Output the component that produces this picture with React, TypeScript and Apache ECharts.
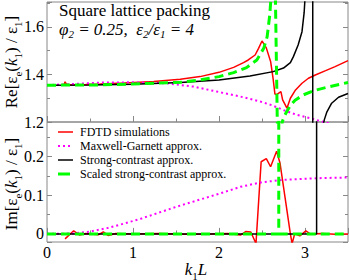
import React, { useEffect, useRef } from 'react';
import * as echarts from 'echarts';

// ---- data (k1*L, value) ----
const fdtdRe = [
  [0.20, 1.358], [0.21, 1.369], [0.23, 1.356], [0.30, 1.357], [0.45, 1.358], [0.62, 1.360],
  [0.90, 1.364], [1.24, 1.370], [1.55, 1.380], [1.78, 1.391], [2.00, 1.409], [2.17, 1.430],
  [2.285, 1.450], [2.34, 1.461], [2.42, 1.482], [2.46, 1.510], [2.50, 1.541], [2.55, 1.512],
  [2.60, 1.455], [2.63, 1.380], [2.65, 1.318], [2.67, 1.315], [2.72, 1.328], [2.74, 1.293],
  [2.79, 1.258], [2.83, 1.300], [2.89, 1.335], [2.965, 1.363], [3.04, 1.384], [3.12, 1.398],
  [3.24, 1.416], [3.35, 1.433], [3.50, 1.458],
];
const fdtdIm = [
  [0.21, -0.013], [0.31, 0.008], [0.38, -0.003], [0.45, 0.001], [0.60, -0.002], [0.655, 0.005],
  [0.71, -0.004], [0.80, 0.001], [1.00, 0.000], [1.30, 0.001], [1.60, -0.001], [1.90, 0.000],
  [2.10, 0.001], [2.25, -0.003], [2.31, 0.006], [2.37, 0.005], [2.43, -0.025], [2.49, 0.187],
  [2.55, 0.195], [2.60, 0.174], [2.67, 0.214], [2.71, 0.183], [2.83, 0.000], [2.85, -0.025],
  [2.88, 0.000], [2.94, -0.005], [3.01, 0.008], [3.06, 0.000], [3.20, 0.001], [3.35, -0.001],
  [3.50, 0.000],
];
const mgRe = [
  [0, 1.355], [0.3, 1.360], [0.62, 1.366], [1.0, 1.367], [1.39, 1.363], [1.70, 1.349],
  [1.975, 1.328], [2.25, 1.307], [2.48, 1.286], [2.62, 1.270], [2.75, 1.250], [2.905, 1.230],
  [3.06, 1.216], [3.18, 1.204], [3.30, 1.192], [3.50, 1.175],
];
const mgIm = [
  [0, 0], [0.3, 0.001], [0.5, 0.006], [0.7, 0.015], [0.9, 0.027], [1.1, 0.040], [1.3, 0.055],
  [1.5, 0.070], [1.75, 0.087], [2.0, 0.104], [2.25, 0.122], [2.5, 0.134], [2.75, 0.140],
  [3.0, 0.143], [3.25, 0.145], [3.5, 0.146],
];
const scRe = [
  [0, 1.355], [0.5, 1.356], [1.0, 1.359], [1.55, 1.366], [2.0, 1.377], [2.36, 1.394],
  [2.63, 1.412], [2.75, 1.427], [2.83, 1.450], [2.865, 1.475], [2.92, 1.524], [2.965, 1.580],
  [2.99, 1.660], [3.0, 1.720], [3.02, 2.2], [3.09, 2.2], [3.09, 0.6], [3.15, 0.95],
  [3.19, 1.13], [3.21, 1.185], [3.225, 1.21], [3.255, 1.243], [3.31, 1.279], [3.39, 1.304],
  [3.5, 1.32],
];
const scIm = [[0, 0], [3.135, 0], [3.135, 1], [3.5, 1]];
const sscRe = [
  [0, 1.355], [0.62, 1.356], [1.0, 1.360], [1.55, 1.367], [1.78, 1.377], [2.0, 1.391],
  [2.17, 1.408], [2.32, 1.429], [2.44, 1.461], [2.52, 1.51], [2.56, 1.559], [2.59, 1.65],
  [2.61, 1.75], [2.63, 2.2], [2.655, 1.75], [2.68, 1.15], [2.72, 1.1], [2.735, 1.2],
  [2.76, 1.225], [2.79, 1.245], [2.83, 1.27], [2.885, 1.292], [2.98, 1.314], [3.1, 1.332],
  [3.255, 1.346], [3.37, 1.356], [3.5, 1.366],
];
const sscIm = [[0, 0], [2.695, 0], [2.695, 1], [2.695, '-'], [2.695, 0], [3.5, 0]];

const names = [
  'FDTD simulations',
  'Maxwell-Garnett approx.',
  'Strong-contrast approx.',
  'Scaled strong-contrast approx.',
];

const FONT = 'Liberation Serif';
const GRAY = '#888888';

function xAxis(grid: number, labels: boolean) {
  return {
    type: 'value', gridIndex: grid, min: 0, max: 3.5, interval: 1, position: 'bottom',
    axisLine: { show: false },
    splitLine: { show: false },
    axisTick: { show: true, inside: true, length: 6, lineStyle: { color: GRAY } },
    minorTick: { show: true, splitNumber: 2, length: 3.5, lineStyle: { color: GRAY } },
    minorSplitLine: { show: false },
    axisLabel: {
      show: labels, margin: 2, showMaxLabel: false, fontFamily: FONT, fontSize: 16, color: '#000',
    },
  };
}

function yAxis(grid: number, pos: string, top: boolean) {
  const common: any = {
    type: 'value', gridIndex: grid, position: pos,
    axisLine: { show: false },
    splitLine: { show: false },
    axisTick: { show: true, inside: true, length: 5, lineStyle: { color: GRAY } },
    minorTick: { show: true, splitNumber: 2, length: 3, lineStyle: { color: GRAY } },
    minorSplitLine: { show: false },
    axisLabel: {
      show: pos === 'left', margin: 3, showMinLabel: top, showMaxLabel: false,
      fontFamily: FONT, fontSize: 16, color: '#000',
      formatter: (v: number) => (Math.abs(v) < 1e-9 ? '0' : top ? v.toFixed(1) : String(+v.toFixed(2))),
    },
  };
  if (top) {
    common.min = 1.2; common.max = 1.705; common.interval = 0.2;
  } else {
    common.min = -0.021; common.max = 0.29; common.minInterval = 0.1; common.maxInterval = 0.1;
  }
  return common;
}

const styles: any[] = [
  { color: '#ff0000', width: 1.5, type: 'solid' },
  { color: '#ff00ff', width: 2, type: [2, 3] },
  { color: '#000000', width: 1.5, type: 'solid' },
  { color: '#00ff00', width: 3, type: [9, 5] },
];

function line(idx: number, data: any[], grid: number) {
  return {
    type: 'line', name: names[idx], data, xAxisIndex: grid, yAxisIndex: grid === 0 ? 0 : 2,
    symbol: 'none', clip: true, silent: true,
    lineStyle: { ...styles[idx], cap: 'butt' },
    itemStyle: { color: styles[idx].color },
  };
}

// manual legend (line samples + labels)
const legendRows = [132, 146, 160, 174];
const legendGraphics: any[] = [];
names.forEach((n, i) => {
  const s = styles[i];
  const dash = Array.isArray(s.type) ? (i === 3 ? [12, 5] : s.type) : null;
  legendGraphics.push({
    type: 'line',
    shape: { x1: 58, y1: legendRows[i], x2: i === 3 ? 70 : 73, y2: legendRows[i] },
    style: { stroke: s.color, lineWidth: s.width, lineDash: dash, lineCap: 'butt' },
  });
  legendGraphics.push({
    type: 'text', x: 80, y: legendRows[i],
    style: { text: n, fontFamily: FONT, fontSize: 12, fill: '#000', verticalAlign: 'middle' },
  });
});

const sub = { fontFamily: FONT, fontSize: 11, verticalAlign: 'bottom', lineHeight: 12 };
const subI = { ...sub, fontStyle: 'italic' };
const main = { fontFamily: FONT, fontSize: 17, lineHeight: 24, verticalAlign: 'middle' };
const mainI = { ...main, fontStyle: 'italic' };
const titleI = { ...mainI, lineHeight: 20 };

const option: any = {
  animation: false,
  backgroundColor: '#ffffff',
  grid: [
    { left: 47, right: 1, top: 2, height: 120, show: true, borderColor: GRAY, borderWidth: 1, backgroundColor: 'transparent' },
    { left: 47, right: 1, top: 122, height: 120, show: true, borderColor: GRAY, borderWidth: 1, backgroundColor: 'transparent' },
  ],
  xAxis: [xAxis(0, false), xAxis(1, true)],
  yAxis: [yAxis(0, 'left', true), yAxis(0, 'right', true), yAxis(1, 'left', false), yAxis(1, 'right', false)],
  graphic: [
    {
      type: 'text', x: 59, y: 10,
      style: { text: 'Square lattice packing', fontFamily: FONT, fontSize: 17, fill: '#000', verticalAlign: 'middle' },
    },
    {
      type: 'text', x: 59, y: 29,
      style: {
        text: '{i|φ}{s|2}{i| = 0.25,  ε}{s|2}{i|/ε}{s|1}{i| = 4}',
        rich: { i: titleI, s: subI }, verticalAlign: 'middle', fill: '#000',
      },
    },
    {
      type: 'text', x: 11, y: 62, rotation: Math.PI / 2,
      style: {
        text: '{m|Re[ε}{s|e}{m|(}{i|k}{s|1}{m|) / ε}{s|1}{m|]}',
        rich: { m: main, i: mainI, s: sub }, align: 'center', verticalAlign: 'middle', fill: '#000',
      },
    },
    {
      type: 'text', x: 11, y: 184, rotation: Math.PI / 2,
      style: {
        text: '{m|Im[ε}{s|e}{m|(}{i|k}{s|1}{m|) / ε}{s|1}{m|]}',
        rich: { m: main, i: mainI, s: sub }, align: 'center', verticalAlign: 'middle', fill: '#000',
      },
    },
    {
      type: 'text', x: 196, y: 269,
      style: {
        text: '{i|k}{s|1}{i|L}',
        rich: { i: mainI, s: sub }, align: 'center', verticalAlign: 'middle', fill: '#000',
      },
    },
    ...legendGraphics,
  ],
  series: [
    line(0, fdtdRe, 0), line(1, mgRe, 0), line(2, scRe, 0), line(3, sscRe, 0),
    line(0, fdtdIm, 1), line(1, mgIm, 1), line(2, scIm, 1), line(3, sscIm, 1),
  ],
};

export default function App() {
  const ref = useRef<HTMLDivElement>(null);
  useEffect(() => {
    const chart = echarts.init(ref.current!, undefined, { renderer: 'svg' });
    chart.setOption(option);
    return () => chart.dispose();
  }, []);
  return (
    <div
      ref={ref}
      style={{ position: 'absolute', left: 0, top: 0, width: 349, height: 280, background: '#fff' }}
    />
  );
}
